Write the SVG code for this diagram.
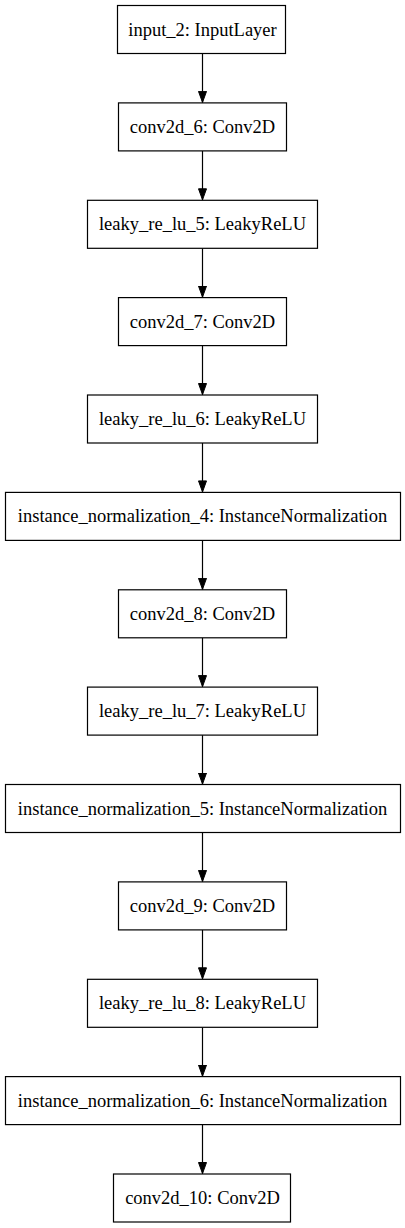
<svg xmlns="http://www.w3.org/2000/svg" width="405" height="1228" viewBox="0 0 405 1228">
<style>
rect.n{fill:#fff;stroke:#000;stroke-width:1.2}
text{font-family:"Liberation Serif","Times New Roman",serif;font-size:18.5px;text-anchor:middle;fill:#000}
.e{stroke:#000;stroke-width:1.2;fill:none}
</style>
<defs>
<marker id="ah" markerWidth="12" markerHeight="9" refX="12" refY="4.5" orient="auto" markerUnits="userSpaceOnUse" viewBox="0 0 12 9">
<path d="M0.5,0.5 L11.5,4.5 L0.5,8.5 Z" fill="#000" stroke="#000" stroke-width="1"/>
</marker>
</defs>
<rect width="405" height="1228" fill="#fff"/>
<g id="edges">
<line class="e" x1="202.5" y1="53.5" x2="202.5" y2="102.9" marker-end="url(#ah)"/>
<line class="e" x1="202.5" y1="150.9" x2="202.5" y2="200.3" marker-end="url(#ah)"/>
<line class="e" x1="202.5" y1="248.3" x2="202.5" y2="297.6" marker-end="url(#ah)"/>
<line class="e" x1="202.5" y1="345.6" x2="202.5" y2="395" marker-end="url(#ah)"/>
<line class="e" x1="202.5" y1="443" x2="202.5" y2="492.4" marker-end="url(#ah)"/>
<line class="e" x1="202.5" y1="540.4" x2="202.5" y2="589.8" marker-end="url(#ah)"/>
<line class="e" x1="202.5" y1="637.8" x2="202.5" y2="687.1" marker-end="url(#ah)"/>
<line class="e" x1="202.5" y1="735.1" x2="202.5" y2="784.5" marker-end="url(#ah)"/>
<line class="e" x1="202.5" y1="832.5" x2="202.5" y2="881.9" marker-end="url(#ah)"/>
<line class="e" x1="202.5" y1="929.9" x2="202.5" y2="979.3" marker-end="url(#ah)"/>
<line class="e" x1="202.5" y1="1027.3" x2="202.5" y2="1076.6" marker-end="url(#ah)"/>
<line class="e" x1="202.5" y1="1124.6" x2="202.5" y2="1174" marker-end="url(#ah)"/>
</g>
<g id="input_2"><rect class="n" x="117.5" y="5.5" width="168" height="48"/><text x="202.5" y="35.5">input_2: InputLayer</text></g>
<g id="conv2d_6"><rect class="n" x="118.5" y="102.9" width="168" height="48"/><text x="202.5" y="132.9">conv2d_6: Conv2D</text></g>
<g id="leaky_re_lu_5"><rect class="n" x="87.5" y="200.3" width="230" height="48"/><text x="202.5" y="230.3">leaky_re_lu_5: LeakyReLU</text></g>
<g id="conv2d_7"><rect class="n" x="118.5" y="297.6" width="168" height="48"/><text x="202.5" y="327.6">conv2d_7: Conv2D</text></g>
<g id="leaky_re_lu_6"><rect class="n" x="87.5" y="395" width="230" height="48"/><text x="202.5" y="425">leaky_re_lu_6: LeakyReLU</text></g>
<g id="instance_normalization_4"><rect class="n" x="5.5" y="492.4" width="395" height="48"/><text x="202.5" y="522.4">instance_normalization_4: InstanceNormalization</text></g>
<g id="conv2d_8"><rect class="n" x="118.5" y="589.8" width="168" height="48"/><text x="202.5" y="619.8">conv2d_8: Conv2D</text></g>
<g id="leaky_re_lu_7"><rect class="n" x="87.5" y="687.1" width="230" height="48"/><text x="202.5" y="717.1">leaky_re_lu_7: LeakyReLU</text></g>
<g id="instance_normalization_5"><rect class="n" x="5.5" y="784.5" width="395" height="48"/><text x="202.5" y="814.5">instance_normalization_5: InstanceNormalization</text></g>
<g id="conv2d_9"><rect class="n" x="118.5" y="881.9" width="168" height="48"/><text x="202.5" y="911.9">conv2d_9: Conv2D</text></g>
<g id="leaky_re_lu_8"><rect class="n" x="87.5" y="979.3" width="230" height="48"/><text x="202.5" y="1009.3">leaky_re_lu_8: LeakyReLU</text></g>
<g id="instance_normalization_6"><rect class="n" x="5.5" y="1076.6" width="395" height="48"/><text x="202.5" y="1106.6">instance_normalization_6: InstanceNormalization</text></g>
<g id="conv2d_10"><rect class="n" x="113.5" y="1174" width="177" height="48"/><text x="202.5" y="1204">conv2d_10: Conv2D</text></g>
</svg>
